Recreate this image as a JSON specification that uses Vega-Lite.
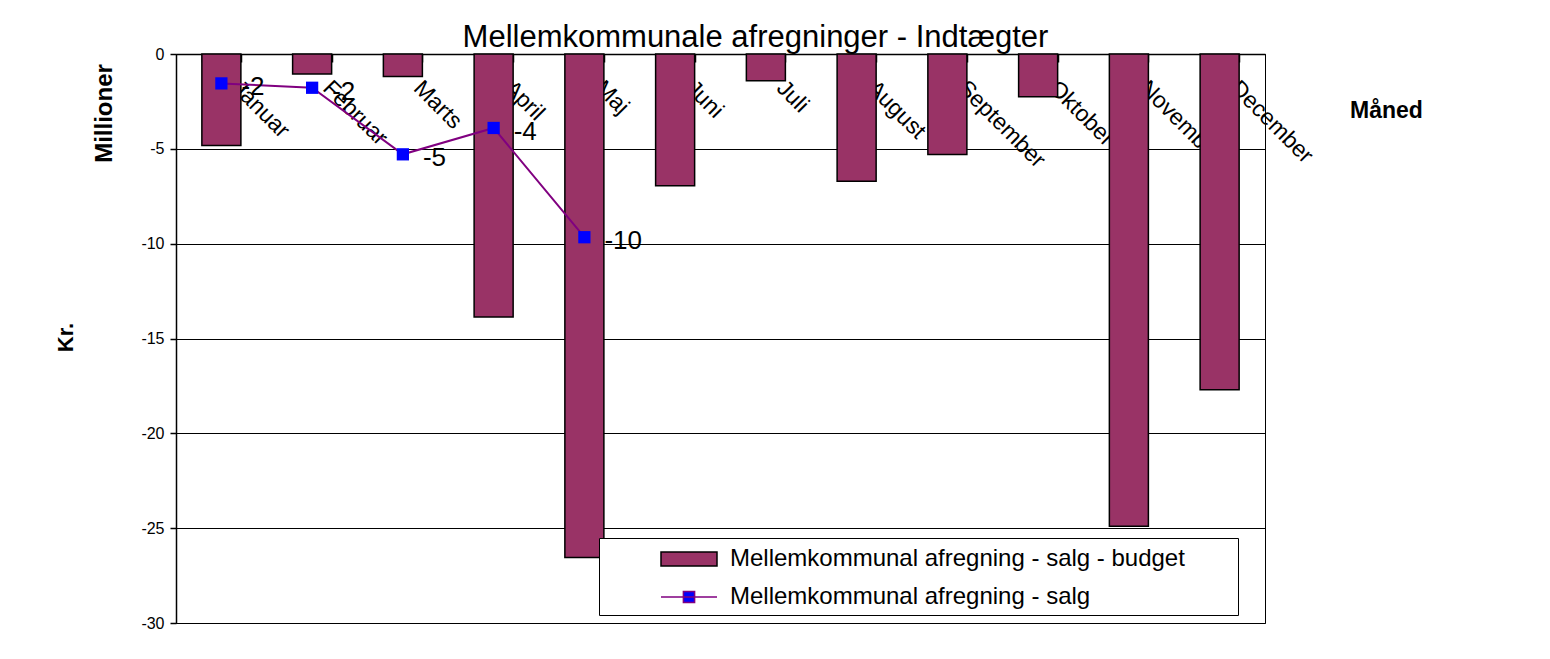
{
  "$schema": "https://vega.github.io/schema/vega-lite/v6.json",
  "autosize": {"type": "none"},
  "width": 1089,
  "height": 569,
  "padding": {"left": 176, "top": 54, "right": 285, "bottom": 36},
  "background": "white",
  "title": {
    "text": "Mellemkommunale afregninger - Indtægter",
    "font": "Liberation Sans",
    "fontSize": 31,
    "fontWeight": "normal",
    "color": "black",
    "anchor": "middle",
    "frame": "group",
    "dx": 35,
    "offset": -8
  },
  "data": {
    "values": [
      {"maaned": "Januar", "budget": -4.83, "salg": -1.55},
      {"maaned": "Februar", "budget": -1.06, "salg": -1.78},
      {"maaned": "Marts", "budget": -1.18, "salg": -5.29},
      {"maaned": "April", "budget": -13.87, "salg": -3.9},
      {"maaned": "Maj", "budget": -26.55, "salg": -9.66},
      {"maaned": "Juni", "budget": -6.94, "salg": null},
      {"maaned": "Juli", "budget": -1.41, "salg": null},
      {"maaned": "August", "budget": -6.71, "salg": null},
      {"maaned": "September", "budget": -5.3, "salg": null},
      {"maaned": "Oktober", "budget": -2.25, "salg": null},
      {"maaned": "November", "budget": -24.9, "salg": null},
      {"maaned": "December", "budget": -17.7, "salg": null}
    ]
  },
  "resolve": {"axis": {"y": "independent"}},
  "layer": [
    {
      "mark": {"type": "bar", "color": "#993366", "stroke": "black", "strokeWidth": 1.5, "opacity": 1},
      "encoding": {
        "x": {
          "field": "maaned", "type": "nominal", "sort": null,
          "scale": {"paddingInner": 0.57, "paddingOuter": 0.285},
          "axis": {
            "orient": "top",
            "title": "Måned",
            "titleX": 1210, "titleY": 56, "titleAngle": 0,
            "titleAlign": "center", "titleBaseline": "middle",
            "titleFontSize": 23, "titleFontWeight": "bold",
            "labelAngle": 45, "labelAlign": "left", "labelBaseline": "middle",
            "labelFontSize": 23, "labelOffset": 14, "labelPadding": -22,
            "labelOverlap": false, "labelBound": false, "labelFlush": false,
            "tickSize": -8, "tickBand": "extent", "grid": false
          }
        },
        "y": {
          "field": "budget", "type": "quantitative",
          "scale": {"domain": [-30, 0], "nice": false, "zero": false},
          "axis": {
            "values": [-30, -25, -20, -15, -10, -5, 0],
            "title": "Kr.",
            "titleFontSize": 22, "titleFontWeight": "bold",
            "titleX": -111, "titleY": 283, "titleAngle": -90,
            "titleAlign": "center", "titleBaseline": "middle",
            "labelFontSize": 16, "tickSize": 6, "labelPadding": 6,
            "grid": true
          }
        }
      }
    },
    {
      "transform": [{"filter": "isValid(datum.salg)"}],
      "mark": {"type": "line", "color": "#800080", "strokeWidth": 2},
      "encoding": {
        "x": {"field": "maaned", "type": "nominal", "sort": null},
        "y": {
          "field": "salg", "type": "quantitative",
          "axis": {
            "orient": "left",
            "title": "Millioner",
            "titleFontSize": 24, "titleFontWeight": "bold",
            "titleX": -72, "titleY": 59, "titleAngle": -90,
            "titleAlign": "center", "titleBaseline": "middle",
            "labels": false, "ticks": false, "domain": false, "grid": false
          }
        }
      }
    },
    {
      "transform": [{"filter": "isValid(datum.salg)"}],
      "mark": {"type": "square", "size": 150, "color": "#0000ff", "opacity": 1},
      "encoding": {
        "x": {"field": "maaned", "type": "nominal", "sort": null},
        "y": {"field": "salg", "type": "quantitative", "axis": null}
      }
    },
    {
      "transform": [{"filter": "isValid(datum.salg)"}],
      "mark": {"type": "text", "align": "left", "baseline": "middle", "dx": 20, "dy": 4, "fontSize": 26, "color": "black"},
      "encoding": {
        "x": {"field": "maaned", "type": "nominal", "sort": null},
        "y": {"field": "salg", "type": "quantitative", "axis": null},
        "text": {"field": "salg", "type": "quantitative", "format": ".0f"}
      }
    },
    {
      "data": {
        "values": [
          {"serie": "Mellemkommunal afregning - salg - budget"},
          {"serie": "Mellemkommunal afregning - salg"}
        ]
      },
      "transform": [{"filter": "false"}],
      "mark": {"type": "point", "filled": true, "strokeWidth": 1.5, "opacity": 1},
      "encoding": {
        "shape": {
          "field": "serie", "type": "nominal",
          "scale": {
            "domain": ["Mellemkommunal afregning - salg - budget", "Mellemkommunal afregning - salg"],
            "range": ["M-2,-0.5H2V0.5H-2Z", "M-2,0H2M-0.4,-0.4H0.4V0.4H-0.4Z"]
          },
          "legend": {
            "title": null,
            "orient": "none",
            "legendX": 423,
            "legendY": 484,
            "padding": 6,
            "strokeColor": "black",
            "fillColor": "white",
            "symbolSize": 784,
            "symbolStrokeWidth": 1.5,
            "symbolOpacity": 1,
            "symbolOffset": 69,
            "labelOffset": 26,
            "rowPadding": 11,
            "labelFontSize": 24,
            "labelLimit": 0,
            "labelExpr": "datum.label + '\u00a0\u00a0\u00a0\u00a0\u00a0\u00a0\u00a0\u200b'"
          }
        },
        "fill": {
          "field": "serie", "type": "nominal",
          "scale": {
            "domain": ["Mellemkommunal afregning - salg - budget", "Mellemkommunal afregning - salg"],
            "range": ["#993366", "#0000ff"]
          },
          "legend": {"title": null, "orient": "none", "legendX": 423, "legendY": 484}
        },
        "stroke": {
          "field": "serie", "type": "nominal",
          "scale": {
            "domain": ["Mellemkommunal afregning - salg - budget", "Mellemkommunal afregning - salg"],
            "range": ["#000000", "#800080"]
          },
          "legend": {"title": null, "orient": "none", "legendX": 423, "legendY": 484}
        }
      }
    }
  ],
  "config": {
    "font": "Liberation Sans",
    "locale": {
      "number": {"decimal": ".", "thousands": ",", "grouping": [3], "currency": ["", ""], "minus": "-"}
    },
    "view": {"stroke": "black", "strokeWidth": 1},
    "axis": {
      "domainColor": "black", "tickColor": "black", "gridColor": "black",
      "gridOpacity": 1, "labelColor": "black", "titleColor": "black",
      "labelFont": "Liberation Sans", "titleFont": "Liberation Sans",
      "domainWidth": 1.5, "tickWidth": 1.5
    },
    "legend": {"labelFont": "Liberation Sans", "labelColor": "black"}
  }
}
